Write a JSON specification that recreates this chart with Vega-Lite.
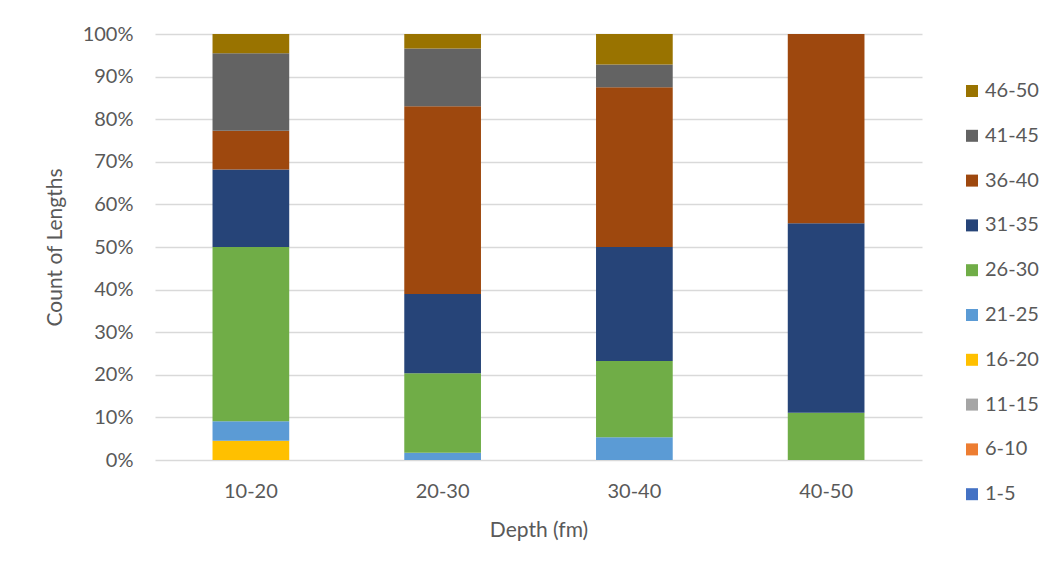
{
  "$schema": "https://vega.github.io/schema/vega-lite/v6.json",
  "width": 767,
  "height": 426,
  "autosize": "none",
  "padding": {"left": 155, "top": 34, "right": 139, "bottom": 118},
  "background": "white",
  "data": {
    "values": [
      {"depth": "10-20", "length": "16-20", "lo": 16, "count": 1},
      {"depth": "10-20", "length": "21-25", "lo": 21, "count": 1},
      {"depth": "10-20", "length": "26-30", "lo": 26, "count": 9},
      {"depth": "10-20", "length": "31-35", "lo": 31, "count": 4},
      {"depth": "10-20", "length": "36-40", "lo": 36, "count": 2},
      {"depth": "10-20", "length": "41-45", "lo": 41, "count": 4},
      {"depth": "10-20", "length": "46-50", "lo": 46, "count": 1},
      {"depth": "20-30", "length": "21-25", "lo": 21, "count": 1},
      {"depth": "20-30", "length": "26-30", "lo": 26, "count": 11},
      {"depth": "20-30", "length": "31-35", "lo": 31, "count": 11},
      {"depth": "20-30", "length": "36-40", "lo": 36, "count": 26},
      {"depth": "20-30", "length": "41-45", "lo": 41, "count": 8},
      {"depth": "20-30", "length": "46-50", "lo": 46, "count": 2},
      {"depth": "30-40", "length": "21-25", "lo": 21, "count": 3},
      {"depth": "30-40", "length": "26-30", "lo": 26, "count": 10},
      {"depth": "30-40", "length": "31-35", "lo": 31, "count": 15},
      {"depth": "30-40", "length": "36-40", "lo": 36, "count": 21},
      {"depth": "30-40", "length": "41-45", "lo": 41, "count": 3},
      {"depth": "30-40", "length": "46-50", "lo": 46, "count": 4},
      {"depth": "40-50", "length": "26-30", "lo": 26, "count": 1},
      {"depth": "40-50", "length": "31-35", "lo": 31, "count": 4},
      {"depth": "40-50", "length": "36-40", "lo": 36, "count": 4}
    ]
  },
  "mark": {"type": "bar"},
  "encoding": {
    "x": {
      "field": "depth",
      "type": "nominal",
      "scale": {"paddingInner": 0.6, "paddingOuter": 0.3},
      "axis": {
        "title": "Depth (fm)",
        "labelAngle": 0,
        "ticks": false,
        "tickSize": 0,
        "domain": false,
        "labelPadding": 21,
        "titlePadding": 18
      }
    },
    "y": {
      "field": "count",
      "type": "quantitative",
      "stack": "normalize",
      "scale": {"domain": [0, 1], "nice": false},
      "axis": {
        "title": "Count of Lengths",
        "format": "%",
        "values": [0, 0.1, 0.2, 0.3, 0.4, 0.5, 0.6, 0.7, 0.8, 0.9, 1],
        "ticks": false,
        "tickSize": 0,
        "domain": false,
        "labelPadding": 22,
        "titlePadding": 17
      }
    },
    "color": {
      "field": "length",
      "type": "nominal",
      "scale": {
        "domain": ["46-50", "41-45", "36-40", "31-35", "26-30", "21-25", "16-20", "11-15", "6-10", "1-5"],
        "range": ["#997300", "#636363", "#9E480E", "#264478", "#70AD47", "#5B9BD5", "#FFC000", "#A5A5A5", "#ED7D31", "#4472C4"]
      },
      "legend": {
        "title": null,
        "orient": "none",
        "legendX": 807,
        "legendY": 47,
        "symbolType": "square",
        "symbolSize": 144,
        "symbolStrokeWidth": 0,
        "symbolOpacity": 1,
        "labelFontSize": 20,
        "labelOffset": 3,
        "rowPadding": 24.8,
        "padding": 0
      }
    },
    "order": {"field": "lo", "type": "quantitative", "sort": "ascending"}
  },
  "config": {
    "font": "Lato",
    "view": {"stroke": null},
    "axis": {
      "labelFont": "Lato",
      "titleFont": "Lato",
      "labelFontSize": 20,
      "titleFontSize": 21,
      "titleFontWeight": "normal",
      "labelColor": "#595959",
      "titleColor": "#595959",
      "gridColor": "#D9D9D9",
      "gridWidth": 1.5
    },
    "legend": {
      "labelFont": "Lato",
      "labelColor": "#595959"
    }
  }
}
